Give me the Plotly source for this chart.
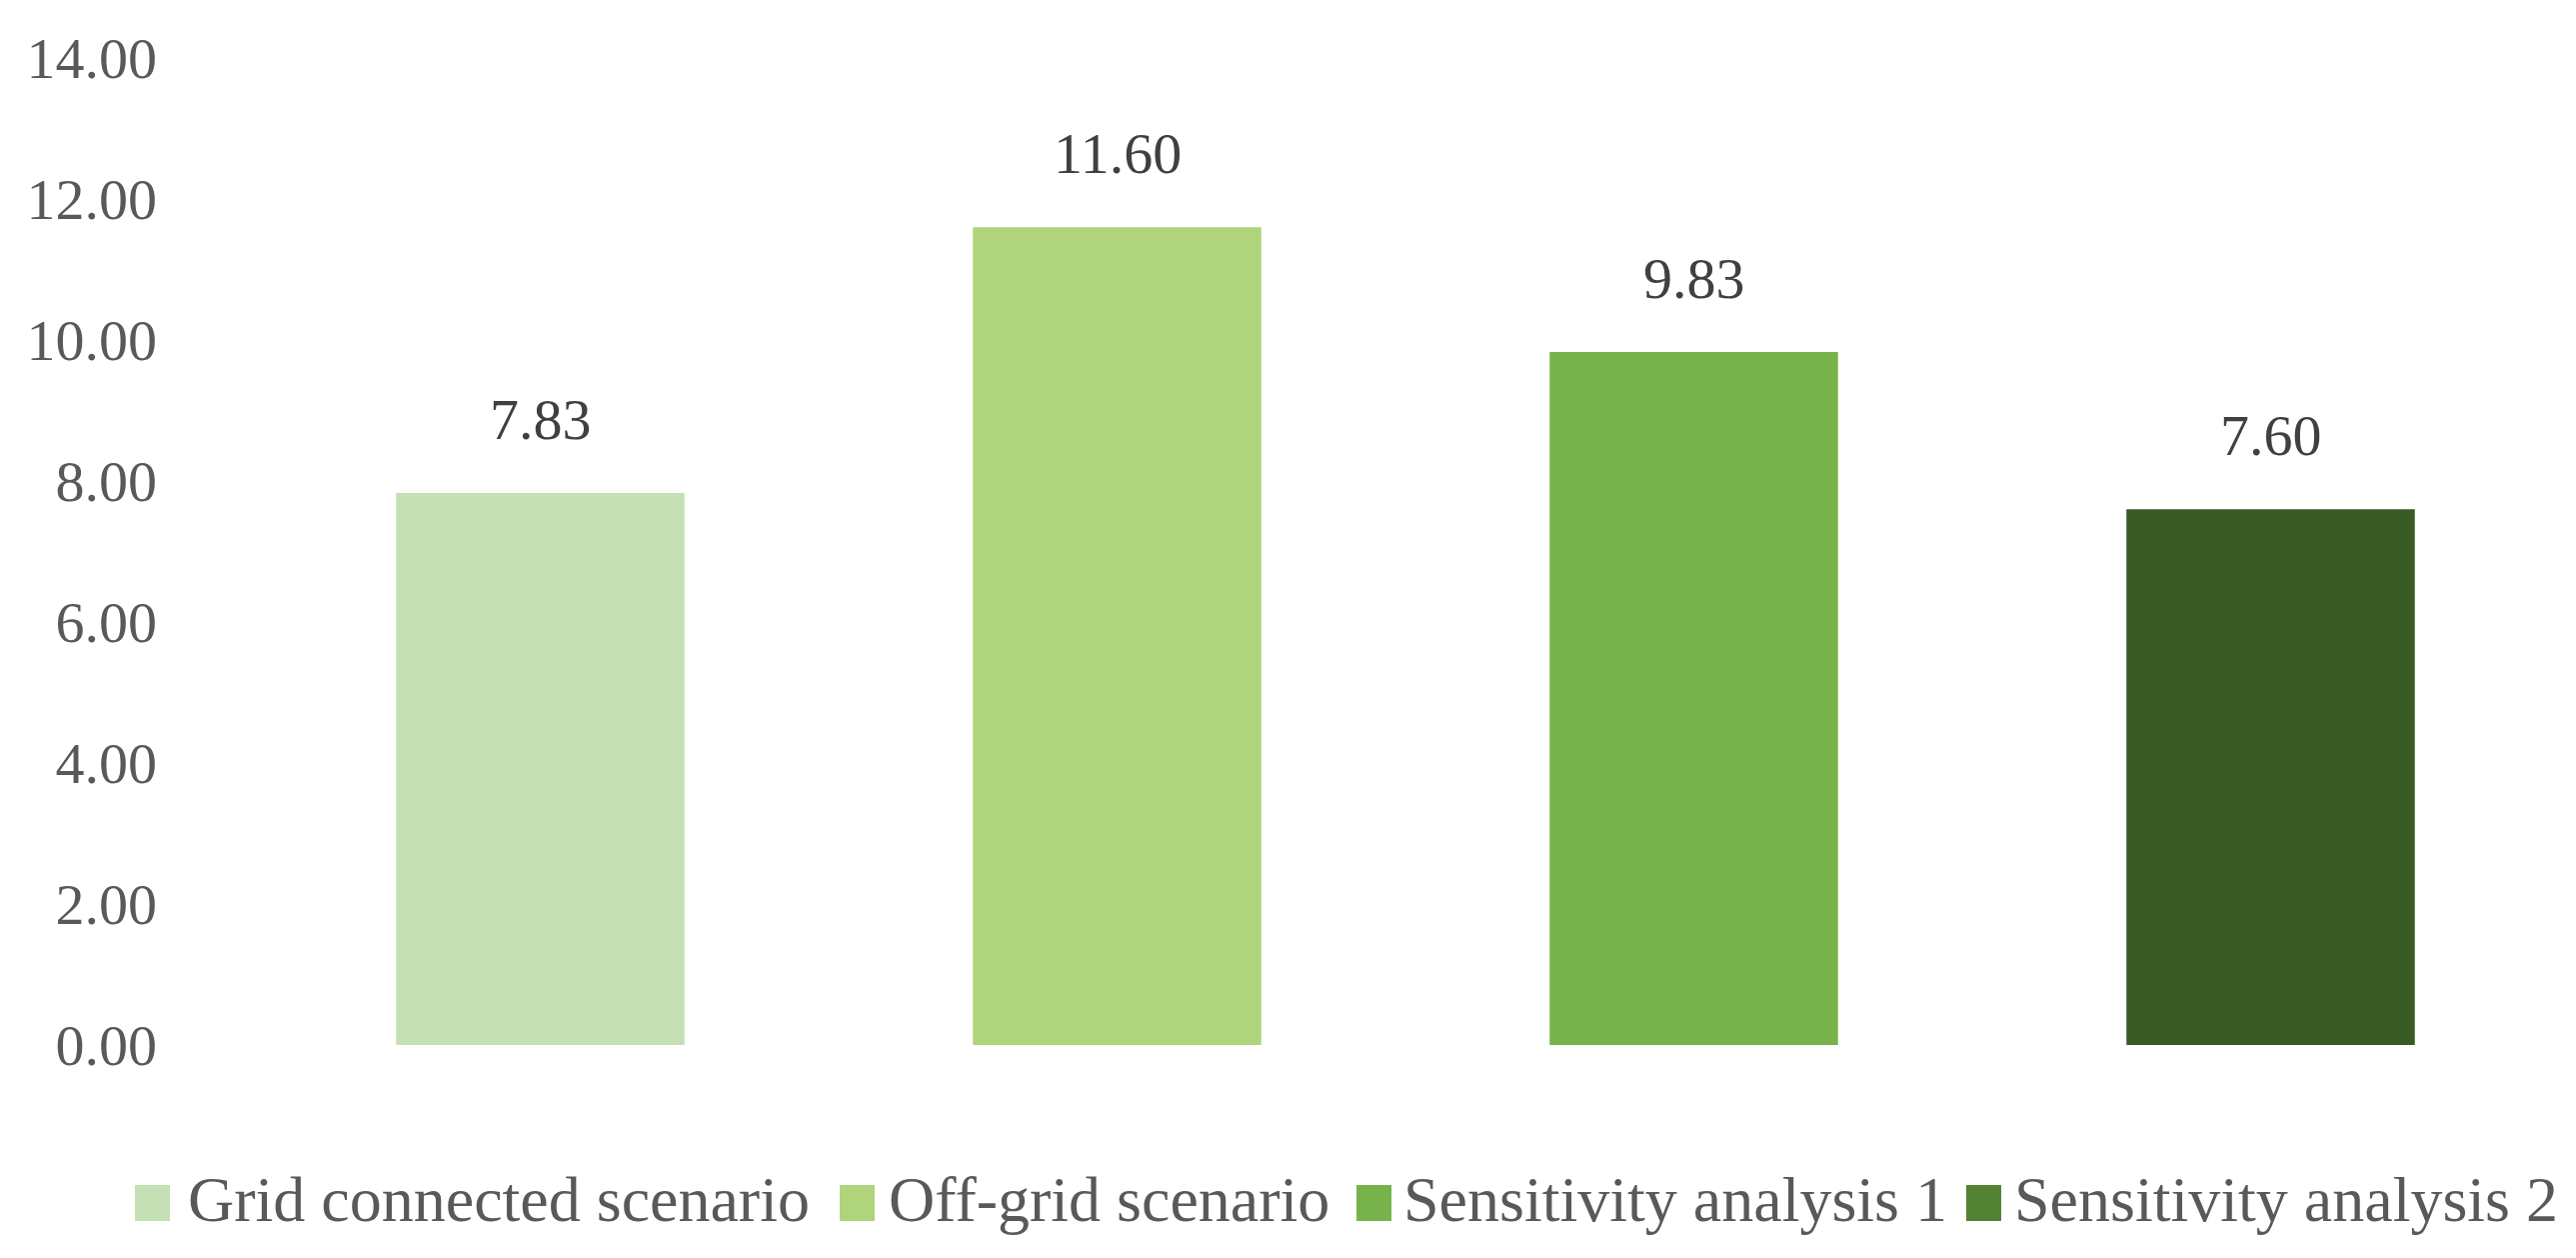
import plotly.graph_objects as go

# ---- data ----
categories = ["Grid connected scenario", "Off-grid scenario",
              "Sensitivity analysis 1", "Sensitivity analysis 2"]
values = [7.83, 11.60, 9.83, 7.60]
value_labels = ["7.83", "11.60", "9.83", "7.60"]
bar_colors = ["#C5E0B4", "#B0D47C", "#77B34A", "#3A5A24"]
legend_colors = ["#C5E0B4", "#B0D47C", "#77B34A", "#548235"]
y_ticks = [0, 2, 4, 6, 8, 10, 12, 14]
y_tick_labels = ["0.00", "2.00", "4.00", "6.00", "8.00", "10.00", "12.00", "14.00"]

# ---- layout geometry (absolute window pixels) ----
WIN_W, WIN_H = 2577, 1258
OFF = 8                       # default page body margin
W, H = WIN_W - 2 * OFF, WIN_H - 2 * OFF
PLOT_LEFT, PLOT_RIGHT, PLOT_TOP, PLOT_BOTTOM = 252, 2560, 58, 1045
L = PLOT_LEFT - OFF
R = (OFF + W) - PLOT_RIGHT
T = PLOT_TOP - OFF
B = (OFF + H) - PLOT_BOTTOM
PW, PH = W - L - R, H - T - B
FONT = "Liberation Serif"

def px_x(p):
    return (p - PLOT_LEFT) / PW

def px_y(p):
    return (PLOT_BOTTOM - p) / PH

fig = go.Figure()
fig.add_trace(go.Bar(
    x=categories, y=values,
    marker=dict(color=bar_colors, line=dict(width=0)),
    showlegend=False, hoverinfo="x+y",
))

annotations = []
for c, v, t in zip(categories, values, value_labels):
    annotations.append(dict(
        x=c, y=v, xref="x", yref="y", text=t, showarrow=False,
        yanchor="bottom", yshift=39,
        font=dict(family=FONT, size=58, color="#404040"),
    ))

# manual legend (large square swatches as in the reference)
swatch_x = [135, 840, 1357, 1967]
text_x = [186, 887, 1402, 2013]
shapes = []
for name, col, sx, tx in zip(categories, legend_colors, swatch_x, text_x):
    shapes.append(dict(
        type="rect", xref="paper", yref="paper",
        x0=px_x(sx), x1=px_x(sx + 35), y0=px_y(1221), y1=px_y(1185),
        fillcolor=col, line=dict(width=0),
    ))
    annotations.append(dict(
        x=px_x(tx), y=px_y(1199), xref="paper", yref="paper",
        text=name, showarrow=False, xanchor="left", yanchor="middle",
        font=dict(family=FONT, size=64, color="#595959"),
    ))

fig.update_layout(
    width=W, height=H,
    margin=dict(l=L, r=R, t=T, b=B, pad=0),
    paper_bgcolor="white", plot_bgcolor="white",
    bargap=0.5,
    showlegend=False,
    annotations=annotations,
    shapes=shapes,
    font=dict(family=FONT, color="#595959"),
)
fig.update_xaxes(showticklabels=False, showgrid=False, zeroline=False,
                 showline=False, ticks="")
fig.update_yaxes(range=[0, 14], tickvals=y_ticks, ticktext=y_tick_labels,
                 showgrid=False, zeroline=False, showline=False, ticks="",
                 ticklabelstandoff=94,
                 tickfont=dict(family=FONT, size=58, color="#595959"))

fig.write_html("out.html")
